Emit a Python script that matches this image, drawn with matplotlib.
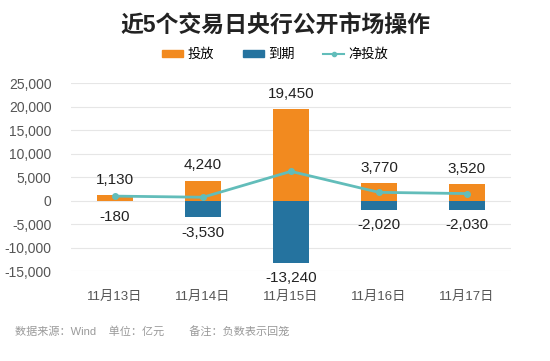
import matplotlib
matplotlib.use('Agg')
import matplotlib.pyplot as plt
import numpy as np
from matplotlib.patches import Patch
from matplotlib.lines import Line2D

plt.rcParams['font.family'] = ['Liberation Sans', 'Noto Sans CJK SC', 'DejaVu Sans']

dates = ['11月13日', '11月14日', '11月15日', '11月16日', '11月17日']
touf = [1130, 4240, 19450, 3770, 3520]      # 投放
daoqi = [-180, -3530, -13240, -2020, -2030]  # 到期
net = [950, 710, 6210, 1750, 1490]           # 净投放
yticks = [-15000, -10000, -5000, 0, 5000, 10000, 15000, 20000, 25000]

c_or = '#F28A1F'
c_bl = '#25739F'
c_tl = '#62BDBA'

fig = plt.figure(figsize=(5.5, 3.61), dpi=100)
ax = fig.add_axes([0.129, 0.249, 0.80, 0.521])

x = np.arange(len(dates))
ax.bar(x, touf, width=0.41, color=c_or, zorder=2)
ax.bar(x, daoqi, width=0.41, color=c_bl, zorder=2)
ax.plot(x, net, color=c_tl, lw=2, marker='o', ms=4, zorder=3)

for i in range(len(x)):
    ax.annotate(f'{touf[i]:,}', (x[i], touf[i]), xytext=(0, 6), textcoords='offset points',
                ha='center', va='bottom', fontsize=11, color='#222222')
    ax.annotate(f'{daoqi[i]:,}', (x[i], daoqi[i]), xytext=(0, -6), textcoords='offset points',
                ha='center', va='top', fontsize=11, color='#222222')

ax.set_xlim(-0.5, 4.5)
ax.set_ylim(-15000, 25000)
ax.set_yticks(yticks)
ax.set_yticklabels([f'{v:,}' for v in yticks], fontsize=10, color='#555555')
ax.set_xticks(x)
ax.set_xticklabels(dates, fontsize=9.5, color='#555555')
ax.tick_params(axis='both', length=0)
ax.tick_params(axis='x', pad=14)
ax.tick_params(axis='y', pad=14)
ax.grid(axis='y', color='#E6E6E6', lw=0.8, zorder=0)
for s in ax.spines.values():
    s.set_visible(False)

fig.text(0.5, 0.93, '近5个交易日央行公开市场操作', ha='center', va='center',
         fontsize=16.5, fontweight='bold', color='#222222')

handles = [Patch(color=c_or), Patch(color=c_bl),
           Line2D([], [], color=c_tl, lw=1.5, marker='o', ms=3)]
fig.legend(handles, ['投放', '到期', '净投放'], loc='center', bbox_to_anchor=(0.5, 0.848),
           ncol=3, frameon=False, fontsize=9.5, handlelength=1.6, handleheight=0.5,
           columnspacing=2.2, handletextpad=0.3)

fig.text(0.027, 0.08, '数据来源：Wind    单位：亿元        备注：负数表示回笼',
         ha='left', va='center', fontsize=8, color='#9A9A9A')

fig.savefig('out.png', dpi=100, facecolor='white')
